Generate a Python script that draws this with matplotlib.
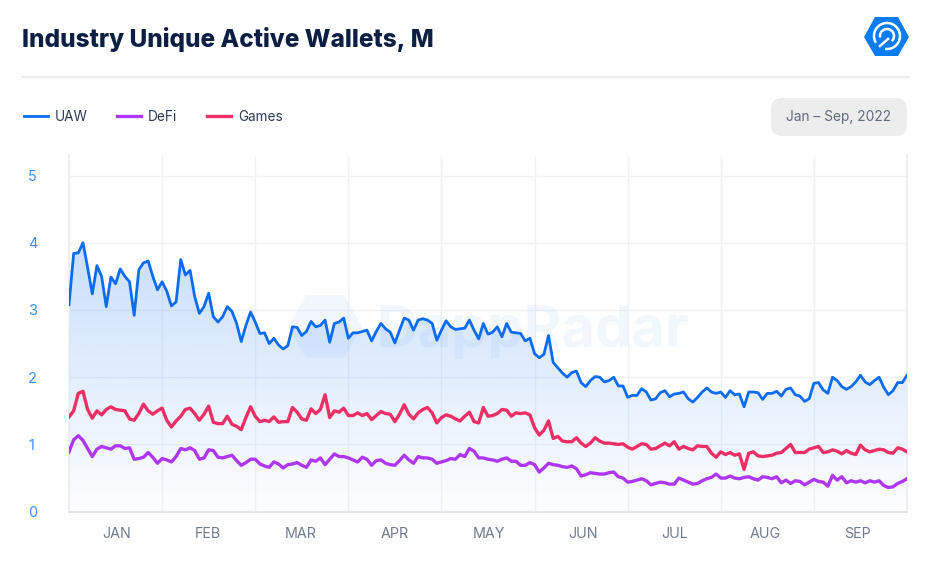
import numpy as np
import matplotlib
matplotlib.use("Agg")
import matplotlib.pyplot as plt
from matplotlib.patches import FancyBboxPatch, Polygon, Arc
from matplotlib.lines import Line2D

months = ["JAN", "FEB", "MAR", "APR", "MAY", "JUN", "JUL", "AUG", "SEP"]
y_ticks = [0, 1, 2, 3, 4, 5]

# 20 samples per month, one row = one month
uaw = [3.08, 3.84, 3.85, 4.0, 3.63, 3.24, 3.66, 3.5, 3.05, 3.49, 3.39, 3.61, 3.5, 3.42, 2.92, 3.6, 3.7, 3.73, 3.5, 3.3,
       3.42, 3.28, 3.06, 3.12, 3.75, 3.52, 3.59, 3.2, 2.95, 3.05, 3.25, 2.9, 2.82, 2.9, 3.05, 2.98, 2.8, 2.53, 2.77, 2.97,
       2.82, 2.65, 2.66, 2.5, 2.58, 2.48, 2.42, 2.47, 2.75, 2.74, 2.62, 2.68, 2.83, 2.75, 2.77, 2.85, 2.52, 2.8, 2.82, 2.88,
       2.58, 2.66, 2.66, 2.68, 2.7, 2.54, 2.68, 2.8, 2.72, 2.67, 2.51, 2.7, 2.88, 2.85, 2.7, 2.85, 2.87, 2.85, 2.8, 2.55,
       2.7, 2.84, 2.75, 2.71, 2.72, 2.73, 2.85, 2.7, 2.57, 2.8, 2.64, 2.67, 2.75, 2.6, 2.8, 2.67, 2.66, 2.65, 2.54, 2.58,
       2.35, 2.29, 2.34, 2.62, 2.22, 2.14, 2.06, 2.0, 2.07, 2.09, 1.92, 1.86, 1.95, 2.01, 2.0, 1.93, 1.95, 2.0, 1.87, 1.87,
       1.7, 1.73, 1.73, 1.83, 1.78, 1.66, 1.68, 1.77, 1.8, 1.71, 1.75, 1.76, 1.78, 1.68, 1.63, 1.7, 1.78, 1.84, 1.78, 1.76,
       1.78, 1.7, 1.8, 1.74, 1.75, 1.56, 1.78, 1.78, 1.77, 1.67, 1.76, 1.76, 1.79, 1.72, 1.82, 1.84, 1.74, 1.72, 1.64, 1.68,
       1.91, 1.92, 1.81, 1.76, 2.0, 1.95, 1.86, 1.82, 1.86, 1.93, 2.03, 1.93, 1.89, 1.95, 2.0, 1.85, 1.74, 1.8, 1.92, 1.92,
       2.03]
defi = [0.89, 1.07, 1.13, 1.06, 0.94, 0.82, 0.93, 0.97, 0.95, 0.93, 0.98, 0.98, 0.94, 0.95, 0.78, 0.79, 0.81, 0.88, 0.81, 0.72,
        0.79, 0.77, 0.74, 0.82, 0.94, 0.92, 0.95, 0.91, 0.78, 0.8, 0.92, 0.91, 0.81, 0.8, 0.82, 0.84, 0.76, 0.69, 0.73, 0.78,
        0.78, 0.71, 0.68, 0.66, 0.74, 0.71, 0.65, 0.7, 0.71, 0.73, 0.69, 0.66, 0.77, 0.75, 0.8, 0.7, 0.78, 0.86, 0.82, 0.82,
        0.8, 0.77, 0.74, 0.81, 0.78, 0.69, 0.76, 0.77, 0.72, 0.7, 0.69, 0.76, 0.84, 0.77, 0.72, 0.82, 0.8, 0.8, 0.78, 0.72,
        0.74, 0.76, 0.79, 0.78, 0.85, 0.82, 0.94, 0.9, 0.8, 0.8, 0.78, 0.77, 0.75, 0.78, 0.8, 0.75, 0.75, 0.69, 0.69, 0.73,
        0.7, 0.59, 0.65, 0.72, 0.7, 0.69, 0.67, 0.66, 0.68, 0.64, 0.53, 0.55, 0.58, 0.57, 0.56, 0.56, 0.58, 0.59, 0.52, 0.5,
        0.44, 0.45, 0.47, 0.49, 0.46, 0.4, 0.42, 0.44, 0.43, 0.41, 0.41, 0.5, 0.47, 0.44, 0.41, 0.42, 0.46, 0.49, 0.51, 0.56,
        0.5, 0.5, 0.53, 0.5, 0.49, 0.51, 0.52, 0.49, 0.47, 0.52, 0.51, 0.49, 0.52, 0.43, 0.47, 0.42, 0.46, 0.45, 0.4, 0.44,
        0.48, 0.45, 0.44, 0.38, 0.54, 0.47, 0.52, 0.43, 0.46, 0.44, 0.46, 0.43, 0.46, 0.44, 0.46, 0.39, 0.36, 0.37, 0.42, 0.45,
        0.49]
games = [1.41, 1.5, 1.76, 1.79, 1.52, 1.39, 1.5, 1.44, 1.52, 1.56, 1.52, 1.51, 1.5, 1.38, 1.36, 1.46, 1.6, 1.5, 1.45, 1.5,
         1.54, 1.36, 1.26, 1.35, 1.42, 1.52, 1.54, 1.46, 1.36, 1.45, 1.57, 1.33, 1.31, 1.31, 1.42, 1.3, 1.27, 1.22, 1.4, 1.56,
         1.42, 1.34, 1.36, 1.34, 1.41, 1.33, 1.34, 1.34, 1.55, 1.48, 1.38, 1.36, 1.53, 1.46, 1.52, 1.74, 1.4, 1.5, 1.48, 1.54,
         1.43, 1.43, 1.47, 1.43, 1.46, 1.37, 1.43, 1.49, 1.46, 1.45, 1.34, 1.45, 1.59, 1.45, 1.38, 1.47, 1.52, 1.55, 1.47, 1.32,
         1.4, 1.44, 1.42, 1.38, 1.35, 1.42, 1.48, 1.34, 1.32, 1.55, 1.42, 1.43, 1.46, 1.52, 1.51, 1.42, 1.47, 1.46, 1.47, 1.44,
         1.25, 1.14, 1.21, 1.35, 1.09, 1.12, 1.05, 1.04, 1.04, 1.1, 1.02, 0.97, 1.02, 1.1, 1.05, 1.02, 1.02, 1.01, 1.0, 1.01,
         0.96, 0.93, 0.97, 1.01, 1.0, 0.93, 0.94, 0.98, 1.02, 0.98, 1.04, 0.93, 0.97, 0.94, 0.92, 0.98, 0.97, 0.97, 0.87, 0.81,
         0.89, 0.85, 0.88, 0.84, 0.86, 0.63, 0.87, 0.89, 0.83, 0.82, 0.83, 0.84, 0.87, 0.88, 0.94, 1.0, 0.88, 0.88, 0.88, 0.93,
         0.95, 0.97, 0.88, 0.89, 0.92, 0.9, 0.86, 0.91, 0.87, 0.85, 0.99, 0.92, 0.89, 0.91, 0.93, 0.92, 0.88, 0.87, 0.95, 0.93,
         0.89]

BLUE = "#0a6cf5"
PURPLE = "#b036f5"
PINK = "#ee2f66"

plt.rcParams["font.family"] = ["Inter", "DejaVu Sans"]

W, H = 931, 568
fig = plt.figure(figsize=(W / 100, H / 100), dpi=100, facecolor="white")
ax = fig.add_axes([69 / W, (H - 511.7) / H, 838 / W, 356.7 / H])


def px(a, b):
    # pixel position from the top left -> figure fraction
    return (a / W, (H - b) / H)


x = np.arange(len(uaw)) / 20

# gradient under the UAW line
grad = np.linspace(0.24, 0.01, 256).reshape(-1, 1)
cols = np.zeros((256, 1, 4))
cols[..., :3] = matplotlib.colors.to_rgb("#1a76f2")
cols[..., 3] = grad
img = ax.imshow(cols, extent=[0, 9, 0, 4.05], aspect="auto", zorder=1, origin="upper")
fill = ax.fill_between(x, uaw, 0, color="none")
img.set_clip_path(fill.get_paths()[0], transform=ax.transData)

ax.plot(x, uaw, color=BLUE, lw=2, label="UAW", zorder=4, solid_joinstyle="round")
ax.plot(x, defi, color=PURPLE, lw=2.4, label="DeFi", zorder=4, solid_joinstyle="round")
ax.plot(x, games, color=PINK, lw=2.4, label="Games", zorder=4, solid_joinstyle="round")

ax.set_xlim(0, 9)
ax.set_ylim(0, 5.305)
ax.set_xticks(range(10))
ax.set_xticklabels([])
ax.set_xticks([0.516, 1.49, 2.49, 3.5, 4.51, 5.52, 6.5, 7.48, 8.47], months, minor=True)
ax.set_yticks(y_ticks)
ax.grid(color="#f1f2f5", lw=1)
ax.set_axisbelow(True)
ax.tick_params(which="both", length=0)
ax.tick_params(axis="x", which="minor", pad=11, labelsize=10.3, labelcolor="#6e7b91")
ax.tick_params(axis="y", pad=29.5, labelsize=10.5, labelcolor="#3a8dff")
for lab in ax.get_yticklabels():
    lab.set_horizontalalignment("left")
ax.spines["top"].set_visible(False)
for s in ["left", "right"]:
    ax.spines[s].set_color("#eceef1")
    ax.spines[s].set_linewidth(1.2)
ax.spines["bottom"].set_color("#e2e4e8")
ax.spines["bottom"].set_linewidth(1.3)

# legend
ax.legend(loc="lower left", bbox_to_anchor=(px(24, 124)), bbox_transform=fig.transFigure,
          ncol=3, frameon=False, fontsize=9.8, labelcolor="#2c3a55", handlelength=1.75,
          columnspacing=2.2, handletextpad=0.5, borderpad=0, borderaxespad=0)

# watermark
fig.text(*px(376, 332), "DappRadar", fontsize=41.5, fontweight="bold", color="#1a76f2", alpha=0.055,
         va="center", ha="left", zorder=5)
wm = [(288, 327), (306, 295), (344, 295), (362, 327), (344, 358), (306, 358)]
fig.add_artist(Polygon([px(a, b) for a, b in wm], closed=True, transform=fig.transFigure,
                       fc="#1a76f2", ec="none", alpha=0.055))

# header
fig.text(*px(22, 39), "Industry Unique Active Wallets, M", fontsize=17.5, fontweight="heavy",
         color="#0b1f44", va="center", ha="left")
fig.add_artist(Line2D([22 / W, 908 / W], [(H - 77) / H] * 2, color="#ebecee", lw=1.6))

# date box
fig.add_artist(FancyBboxPatch(px(771, 136), 136 / W, 38 / H, transform=fig.transFigure,
                              boxstyle="round,pad=0,rounding_size=0.012", mutation_aspect=W / H,
                              fc="#ededee", ec="none"))
fig.text(*px(839, 117), "Jan – Sep, 2022", fontsize=9.9, color="#5f6b7f", ha="center", va="center")

# logo
hexa = [(864, 37), (875, 17), (898, 17), (909, 37), (898, 56), (875, 56)]
fig.add_artist(Polygon([px(a, b) for a, b in hexa], closed=True, transform=fig.transFigure,
                       fc="#0a7cf5", ec="none"))
fig.add_artist(Arc(px(887, 36), 26 / W, 26 / H, theta1=-95, theta2=225,
                   transform=fig.transFigure, color="white", lw=1.8))
fig.add_artist(Arc(px(887, 36), 14 / W, 14 / H, theta1=-60, theta2=200,
                   transform=fig.transFigure, color="white", lw=1.8))
fig.add_artist(Line2D([888 / W, 880 / W], [(H - 39) / H, (H - 46) / H], color="white", lw=1.8))

fig.savefig("out.png", dpi=100)
